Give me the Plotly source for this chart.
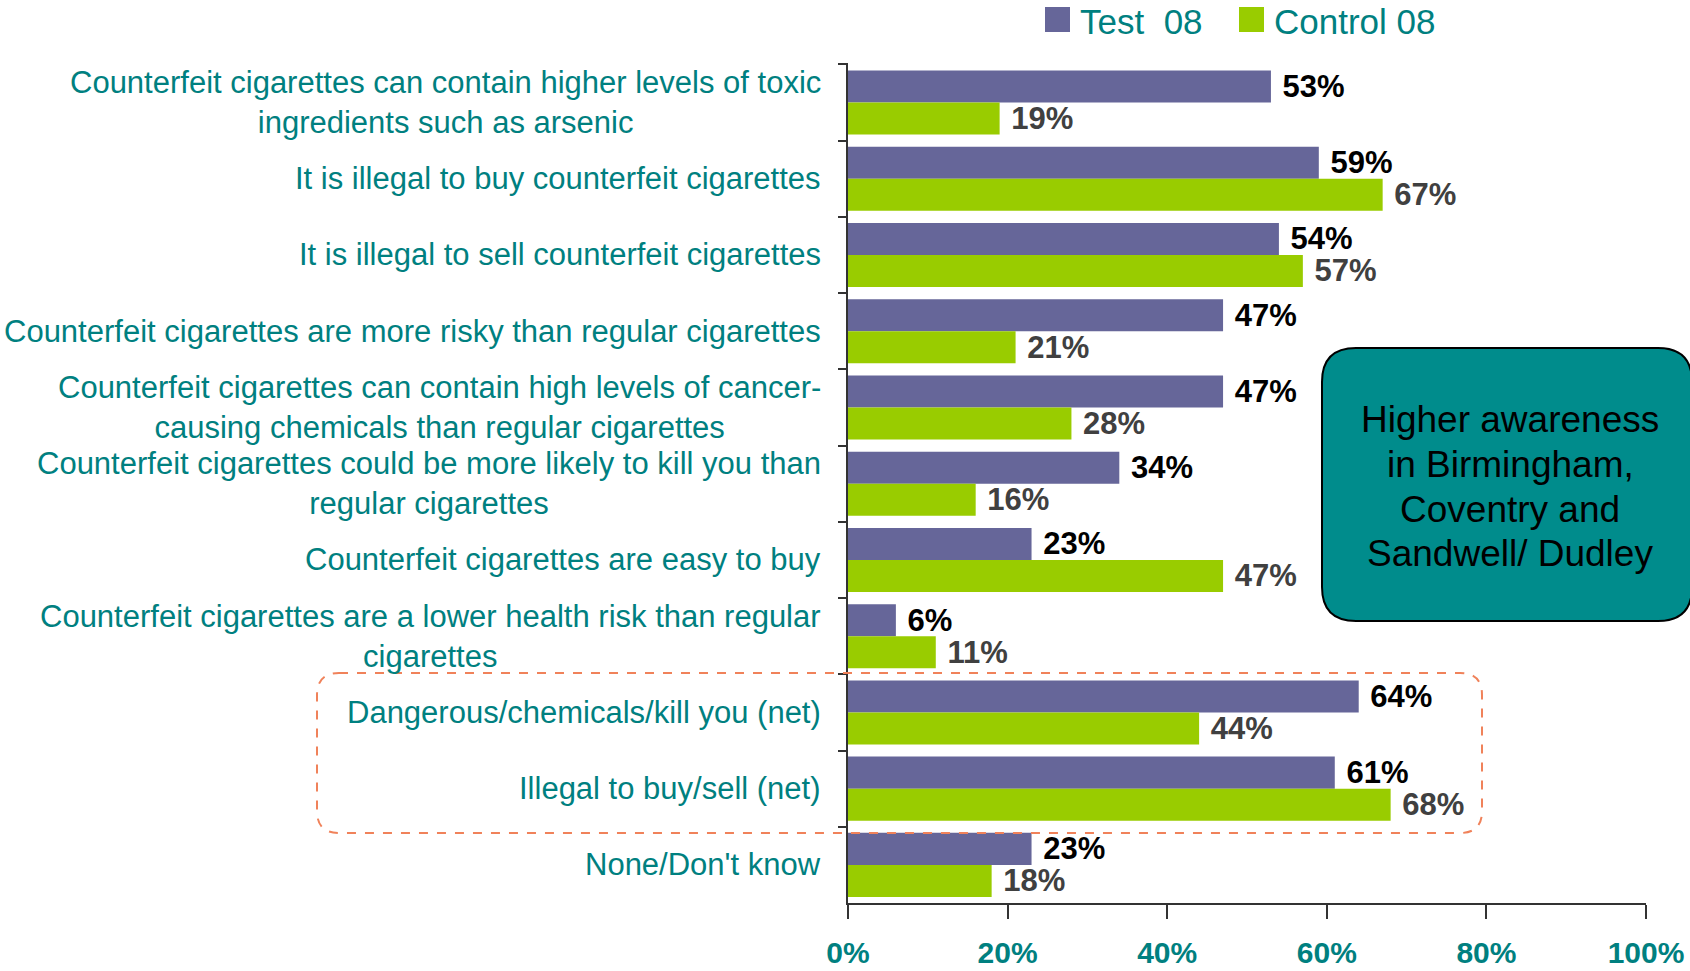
import plotly.graph_objects as go

# Survey statements (line breaks mark where each label wraps)
categories = [
    "Counterfeit cigarettes can contain higher levels of toxic<br>ingredients such as arsenic",
    "It is illegal to buy counterfeit cigarettes",
    "It is illegal to sell counterfeit cigarettes",
    "Counterfeit cigarettes are more risky than regular cigarettes",
    "Counterfeit cigarettes can contain high levels of cancer-<br>causing chemicals than regular cigarettes",
    "Counterfeit cigarettes could be more likely to kill you than<br>regular cigarettes",
    "Counterfeit cigarettes are easy to buy",
    "Counterfeit cigarettes are a lower health risk than regular<br>cigarettes",
    "Dangerous/chemicals/kill you (net)",
    "Illegal to buy/sell (net)",
    "None/Don't know",
]
test_08 = [53, 59, 54, 47, 47, 34, 23, 6, 64, 61, 23]
control_08 = [19, 67, 57, 21, 28, 16, 47, 11, 44, 68, 18]
x_ticks = [0, 20, 40, 60, 80, 100]
x_tick_labels = [f"{v}%" for v in x_ticks]
series_names = ["Test\u00a0 08", "Control 08"]
callout_lines = ["Higher awareness", "in Birmingham,", "Coventry and", "Sandwell/ Dudley"]

W, H = 1690, 971
L, R, T, B = 848, 44, 63, 68
PW = W - L - R
PH = H - T - B

TEAL = "#008080"
PURPLE = "#666699"
GREEN = "#99CC00"
FONT = "Liberation Sans, Arial, sans-serif"


def px(x):
    return (x - L) / PW


def py(y):
    return (H - B - y) / PH


def rounded_path(x0, y0, x1, y1, r):
    def p(x, y):
        return f"{px(x):.5f},{py(y):.5f}"
    return (
        f"M{p(x0 + r, y0)} L{p(x1 - r, y0)} Q{p(x1, y0)} {p(x1, y0 + r)} "
        f"L{p(x1, y1 - r)} Q{p(x1, y1)} {p(x1 - r, y1)} "
        f"L{p(x0 + r, y1)} Q{p(x0, y1)} {p(x0, y1 - r)} "
        f"L{p(x0, y0 + r)} Q{p(x0, y0)} {p(x0 + r, y0)} Z"
    )


fig = go.Figure()
fig.add_trace(go.Bar(
    y=categories, x=test_08, orientation="h", name=series_names[0],
    marker=dict(color=PURPLE, line=dict(width=0)),
    text=[f"{v}%" for v in test_08], texttemplate=" %{text}",
    textposition="outside", cliponaxis=False, constraintext="none",
    textfont=dict(family=FONT, size=31, color="#000000", weight="bold"),
    showlegend=False,
))
fig.add_trace(go.Bar(
    y=categories, x=control_08, orientation="h", name=series_names[1],
    marker=dict(color=GREEN, line=dict(width=0)),
    text=[f"{v}%" for v in control_08], texttemplate=" %{text}",
    textposition="outside", cliponaxis=False, constraintext="none",
    textfont=dict(family=FONT, size=31, color="#404040", weight="bold"),
    showlegend=False,
))

annotations = []
# category labels, centred lines, right edge just left of the axis
for cat in categories:
    annotations.append(dict(
        x=0, xref="paper", y=cat, yref="y", xanchor="right", yanchor="middle",
        xshift=-25, text=cat, showarrow=False, align="center",
        font=dict(family=FONT, size=31, color=TEAL),
    ))

# legend
legend_items = [(1045, PURPLE, series_names[0]), (1239, GREEN, series_names[1])]
shapes = []
for x0, col, name in legend_items:
    shapes.append(dict(type="rect", xref="paper", yref="paper",
                       x0=px(x0), x1=px(x0 + 25), y0=py(32), y1=py(7),
                       fillcolor=col, line=dict(width=0)))
    annotations.append(dict(
        x=px(x0 + 33), y=py(22), xref="paper", yref="paper",
        xanchor="left", yanchor="middle", text=name, showarrow=False,
        font=dict(family=FONT, size=35, color=TEAL),
    ))

# callout box
shapes.append(dict(type="path", xref="paper", yref="paper",
                   path=rounded_path(1322, 348, 1692, 621, 34),
                   fillcolor="#008C8C", line=dict(color="#000000", width=2)))
for line, yc in zip(callout_lines, [419, 464, 509, 553]):
    annotations.append(dict(
        x=px(1510), y=py(yc), xref="paper", yref="paper",
        xanchor="center", yanchor="middle", text=line,
        showarrow=False, align="center",
        font=dict(family=FONT, size=37, color="#000000"),
    ))

# dashed outline around the net rows
shapes.append(dict(type="path", xref="paper", yref="paper",
                   path=rounded_path(317, 673, 1482, 833, 22),
                   fillcolor="rgba(0,0,0,0)",
                   line=dict(color="#F0825A", width=2, dash="dash")))

fig.update_layout(
    width=W, height=H,
    margin=dict(l=L, r=R, t=T, b=B, pad=0),
    paper_bgcolor="white", plot_bgcolor="white",
    barmode="group", bargap=0.16, bargroupgap=0,
    showlegend=False,
    shapes=shapes, annotations=annotations,
    font=dict(family=FONT),
    xaxis=dict(
        range=[0, 100], tickvals=x_ticks, ticktext=x_tick_labels,
        automargin=False,
        showgrid=False, zeroline=False,
        showline=True, linecolor="#333333", linewidth=2,
        ticks="outside", ticklen=14, tickwidth=2, tickcolor="#333333",
        ticklabelstandoff=8,
        tickfont=dict(family=FONT, size=30, color=TEAL, weight="bold"),
    ),
    yaxis=dict(
        type="category", autorange="reversed", automargin=False,
        showticklabels=False, showgrid=False, zeroline=False,
        showline=True, linecolor="#333333", linewidth=2,
        ticks="outside", tickson="boundaries", ticklen=8, tickwidth=2,
        tickcolor="#333333",
    ),
)

fig.write_html("out.html")
